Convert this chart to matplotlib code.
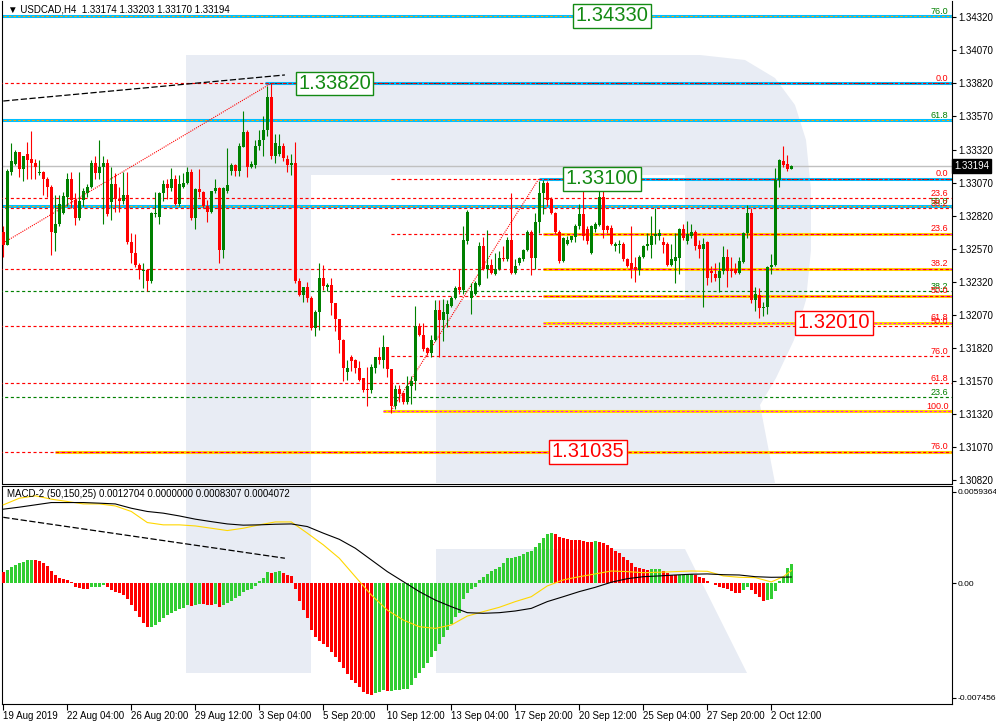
import matplotlib
matplotlib.use('Agg')
import matplotlib.pyplot as plt
from matplotlib.patches import Polygon, Rectangle
import numpy as np

plt.rcParams['font.family'] = ['Liberation Sans', 'DejaVu Sans']

# ---------------- USDCAD H4 candles ----------------
opens = [
    1.3270, 1.3260, 1.3315, 1.3321, 1.3330, 1.3317, 1.3329, 1.3325, 1.3322, 1.3314,
    1.3315, 1.3310, 1.3304, 1.3269, 1.3276, 1.3284, 1.3296, 1.3310, 1.3294, 1.3280,
    1.3294, 1.3299, 1.3304, 1.3322, 1.3314, 1.3319, 1.3322, 1.3292, 1.3306, 1.3295,
    1.3293, 1.3298, 1.3262, 1.3254, 1.3245, 1.3240, 1.3241, 1.3233, 1.3283, 1.3281,
    1.3299, 1.3306, 1.3303, 1.3310, 1.3291, 1.3304, 1.3307, 1.3315, 1.3280, 1.3302,
    1.3300, 1.3289, 1.3285, 1.3301, 1.3303, 1.3256, 1.3301, 1.3316, 1.3320, 1.3316,
    1.3334, 1.3345, 1.3319, 1.3320, 1.3335, 1.3339, 1.3347, 1.3372, 1.3327, 1.3329,
    1.3335, 1.3325, 1.3320, 1.3322, 1.3233, 1.3222, 1.3228, 1.3220, 1.3197, 1.3209,
    1.3235, 1.3228, 1.3230, 1.3216, 1.3204, 1.3188, 1.3164, 1.3175, 1.3173, 1.3167,
    1.3159, 1.3151, 1.3150, 1.3167, 1.3175, 1.3173, 1.3183, 1.3166, 1.3138, 1.3151,
    1.3148, 1.3141, 1.3153, 1.3157, 1.3199, 1.3192, 1.3182, 1.3178, 1.3188, 1.3211,
    1.3203, 1.3208, 1.3214, 1.3220, 1.3228, 1.3226, 1.3263, 1.3220, 1.3223, 1.3230,
    1.3259, 1.3242, 1.3245, 1.3238, 1.3242, 1.3250, 1.3249, 1.3264, 1.3239, 1.3246,
    1.3249, 1.3256, 1.3270, 1.3250, 1.3277, 1.3299, 1.3307, 1.3295, 1.3284, 1.3270,
    1.3248, 1.3261, 1.3264, 1.3266, 1.3274, 1.3283, 1.3272, 1.3254, 1.3272, 1.3275,
    1.3296, 1.3274, 1.3273, 1.3259, 1.3260, 1.3261, 1.3249, 1.3246, 1.3243, 1.3241,
    1.3251, 1.3259, 1.3260, 1.3267, 1.3267, 1.3262, 1.3261, 1.3245, 1.3248, 1.3250,
    1.3272, 1.3263, 1.3267, 1.3270, 1.3260, 1.3257, 1.3262, 1.3240, 1.3238, 1.3235,
    1.3240, 1.3251, 1.3241, 1.3242, 1.3239, 1.3247, 1.3269, 1.3284, 1.3218, 1.3222,
    1.3212, 1.3213, 1.3243, 1.3245, 1.3309, 1.3323, 1.3321, 1.33174]
highs = [
    1.3274, 1.3317, 1.3337, 1.3332, 1.3330, 1.3327, 1.3338, 1.3346, 1.3325, 1.3324,
    1.3316, 1.3311, 1.3305, 1.3298, 1.3298, 1.3300, 1.3314, 1.3315, 1.3299, 1.3315,
    1.3303, 1.3306, 1.3324, 1.3327, 1.3339, 1.3327, 1.3325, 1.3319, 1.3314, 1.3304,
    1.3315, 1.3315, 1.3269, 1.3268, 1.3246, 1.3246, 1.3241, 1.3285, 1.3300, 1.3300,
    1.3309, 1.3310, 1.3318, 1.3313, 1.3313, 1.3314, 1.3319, 1.3317, 1.3303, 1.3317,
    1.3301, 1.3294, 1.3301, 1.3310, 1.3304, 1.3304, 1.3333, 1.3322, 1.3321, 1.3337,
    1.3361, 1.3347, 1.3323, 1.3339, 1.3347, 1.3357, 1.3380, 1.3382, 1.3344, 1.3344,
    1.3337, 1.3328, 1.3329, 1.3338, 1.3235, 1.3228, 1.3232, 1.3221, 1.3211, 1.3246,
    1.3245, 1.3231, 1.3235, 1.3216, 1.3204, 1.3189, 1.3173, 1.3177, 1.3174, 1.3172,
    1.3159, 1.3168, 1.3170, 1.3175, 1.3183, 1.3192, 1.3183, 1.3166, 1.3154, 1.3154,
    1.3149, 1.3161, 1.3161, 1.3214, 1.3201, 1.3201, 1.3183, 1.3192, 1.3218, 1.3218,
    1.3219, 1.3218, 1.3221, 1.3229, 1.3242, 1.3274, 1.3286, 1.3231, 1.3233, 1.3262,
    1.3266, 1.3271, 1.3249, 1.3254, 1.3255, 1.3259, 1.3266, 1.3299, 1.3249, 1.3251,
    1.3257, 1.3271, 1.3271, 1.3284, 1.3308, 1.3309, 1.3308, 1.3296, 1.3285, 1.3271,
    1.3266, 1.3267, 1.3267, 1.3276, 1.3291, 1.3301, 1.3274, 1.3275, 1.3277, 1.3302,
    1.3305, 1.3275, 1.3275, 1.3262, 1.3264, 1.3262, 1.3250, 1.3274, 1.3251, 1.3252,
    1.3260, 1.3269, 1.3282, 1.3288, 1.3272, 1.3266, 1.3262, 1.3261, 1.3269, 1.3273,
    1.3276, 1.3278, 1.3276, 1.3271, 1.3264, 1.3265, 1.3263, 1.3244, 1.3246, 1.3247,
    1.3259, 1.3257, 1.3251, 1.3246, 1.3251, 1.3270, 1.3290, 1.3288, 1.3228, 1.3227,
    1.3217, 1.3244, 1.3253, 1.3318, 1.3325, 1.3335, 1.3328, 1.33203]
lows = [
    1.3251, 1.3260, 1.3313, 1.3320, 1.3311, 1.3308, 1.3310, 1.3310, 1.3310, 1.3313,
    1.3298, 1.3296, 1.3252, 1.3255, 1.3274, 1.3283, 1.3289, 1.3288, 1.3275, 1.3279,
    1.3289, 1.3296, 1.3303, 1.3310, 1.3310, 1.3276, 1.3282, 1.3279, 1.3285, 1.3285,
    1.3291, 1.3261, 1.3246, 1.3243, 1.3234, 1.3227, 1.3225, 1.3231, 1.3281, 1.3276,
    1.3293, 1.3295, 1.3301, 1.3290, 1.3289, 1.3303, 1.3306, 1.3279, 1.3272, 1.3296,
    1.3288, 1.3277, 1.3284, 1.3299, 1.3246, 1.3250, 1.3299, 1.3313, 1.3312, 1.3312,
    1.3334, 1.3311, 1.3318, 1.3318, 1.3332, 1.3327, 1.3342, 1.3325, 1.3322, 1.3327,
    1.3323, 1.3315, 1.3313, 1.3231, 1.3221, 1.3217, 1.3217, 1.3196, 1.3191, 1.3196,
    1.3226, 1.3225, 1.3207, 1.3195, 1.3178, 1.3157, 1.3158, 1.3165, 1.3163, 1.3157,
    1.3149, 1.3138, 1.3148, 1.3163, 1.3170, 1.3167, 1.3160, 1.3133, 1.3136, 1.3141,
    1.3140, 1.3140, 1.3140, 1.3150, 1.3191, 1.3180, 1.3177, 1.3175, 1.3187, 1.3175,
    1.3187, 1.3198, 1.3213, 1.3219, 1.3223, 1.3223, 1.3261, 1.3208, 1.3222, 1.3229,
    1.3241, 1.3235, 1.3238, 1.3237, 1.3241, 1.3248, 1.3248, 1.3238, 1.3238, 1.3245,
    1.3248, 1.3255, 1.3237, 1.3242, 1.3269, 1.3283, 1.3289, 1.3283, 1.3268, 1.3246,
    1.3247, 1.3260, 1.3262, 1.3262, 1.3272, 1.3264, 1.3261, 1.3253, 1.3270, 1.3274,
    1.3265, 1.3269, 1.3260, 1.3255, 1.3254, 1.3248, 1.3243, 1.3235, 1.3232, 1.3237,
    1.3250, 1.3256, 1.3250, 1.3261, 1.3264, 1.3254, 1.3244, 1.3244, 1.3231, 1.3238,
    1.3264, 1.3261, 1.3265, 1.3256, 1.3250, 1.3213, 1.3230, 1.3232, 1.3233, 1.3224,
    1.3238, 1.3228, 1.3236, 1.3238, 1.3238, 1.3246, 1.3265, 1.3216, 1.3210, 1.3205,
    1.3206, 1.3208, 1.3238, 1.3244, 1.3304, 1.3319, 1.3316, 1.33170]
closes = [
    1.3260, 1.3316, 1.3323, 1.3330, 1.3317, 1.3327, 1.3324, 1.3322, 1.3319, 1.3315,
    1.3310, 1.3304, 1.3270, 1.3276, 1.3291, 1.3297, 1.3310, 1.3294, 1.3280, 1.3293,
    1.3301, 1.3304, 1.3322, 1.3314, 1.3319, 1.3322, 1.3283, 1.3306, 1.3295, 1.3293,
    1.3298, 1.3262, 1.3254, 1.3245, 1.3241, 1.3241, 1.3233, 1.3284, 1.3284, 1.3299,
    1.3306, 1.3303, 1.3310, 1.3291, 1.3306, 1.3307, 1.3315, 1.3280, 1.3302, 1.3300,
    1.3289, 1.3285, 1.3301, 1.3303, 1.3256, 1.3303, 1.3305, 1.3320, 1.3316, 1.3335,
    1.3345, 1.3319, 1.3321, 1.3335, 1.3339, 1.3347, 1.3372, 1.3327, 1.3337, 1.3335,
    1.3326, 1.3320, 1.3322, 1.3233, 1.3222, 1.3228, 1.3220, 1.3197, 1.3209, 1.3235,
    1.3229, 1.3230, 1.3216, 1.3204, 1.3188, 1.3167, 1.3167, 1.3172, 1.3167, 1.3158,
    1.3150, 1.3150, 1.3168, 1.3175, 1.3173, 1.3183, 1.3166, 1.3138, 1.3151, 1.3147,
    1.3141, 1.3153, 1.3157, 1.3199, 1.3192, 1.3181, 1.3178, 1.3188, 1.3211, 1.3203,
    1.3209, 1.3215, 1.3220, 1.3227, 1.3226, 1.3264, 1.3285, 1.3225, 1.3231, 1.3259,
    1.3242, 1.3245, 1.3239, 1.3242, 1.3250, 1.3249, 1.3264, 1.3239, 1.3244, 1.3250,
    1.3256, 1.3270, 1.3250, 1.3277, 1.3299, 1.3307, 1.3294, 1.3284, 1.3270, 1.3248,
    1.3265, 1.3264, 1.3267, 1.3274, 1.3283, 1.3267, 1.3263, 1.3274, 1.3276, 1.3296,
    1.3271, 1.3271, 1.3261, 1.3261, 1.3261, 1.3249, 1.3244, 1.3242, 1.3242, 1.3251,
    1.3259, 1.3261, 1.3267, 1.3268, 1.3269, 1.3260, 1.3245, 1.3249, 1.3251, 1.3272,
    1.3265, 1.3268, 1.3270, 1.3259, 1.3257, 1.3261, 1.3235, 1.3239, 1.3235, 1.3240,
    1.3251, 1.3240, 1.3240, 1.3239, 1.3248, 1.3269, 1.3284, 1.3218, 1.3223, 1.3212,
    1.3213, 1.3243, 1.3245, 1.3309, 1.3324, 1.3320, 1.3317, 1.33194]

# ---------------- MACD-2 (50,150,25) ----------------
# histogram, in units of 0.0001
hist_e4 = [
    7.6, 8.7, 10.4, 11.9, 13.0, 14.1, 15.2, 15.3, 15.0, 14.5,
    13.0, 11.3, 8.2, 5.4, 3.7, 2.6, 2.2, 0.9, -2.6, -3.3,
    -3.5, -3.9, -2.6, -2.5, -2.2, -1.3, -2.6, -4.3, -5.4, -6.5,
    -7.6, -10.4, -14.1, -17.8, -22.1, -25.6, -28.6, -28.2, -26.9, -25.0,
    -22.8, -20.8, -19.1, -17.8, -16.9, -15.8, -14.3, -14.8, -14.1, -13.5,
    -13.7, -13.9, -14.3, -13.5, -15.2, -14.3, -13.0, -11.3, -9.8, -8.0,
    -5.9, -4.3, -3.9, -1.7, 1.7, 3.7, 7.4, 6.9, 7.4, 7.8,
    6.5, 5.4, 4.8, -3.9, -11.3, -17.4, -22.6, -30.4, -34.7, -37.3,
    -39.5, -41.2, -44.5, -47.7, -51.0, -55.3, -59.0, -62.9, -65.1, -67.7,
    -70.5, -72.0, -72.7, -71.6, -70.5, -69.4, -69.9, -69.7, -69.4, -69.2,
    -69.0, -68.4, -66.2, -61.8, -58.6, -55.3, -51.6, -48.2, -43.8, -39.5,
    -34.7, -30.4, -26.5, -22.1, -19.1, -10.4, -6.5, -3.9, -2.2, 2.2,
    3.9, 6.1, 8.0, 9.1, 10.4, 13.5, 16.3, 16.5, 16.9, 17.8,
    19.1, 20.6, 21.3, 23.4, 26.5, 29.3, 32.1, 32.6, 32.1, 30.4,
    29.3, 28.6, 28.2, 28.0, 27.9, 27.8, 27.1, 27.0, 27.3, 27.1,
    26.5, 25.0, 23.2, 21.3, 19.5, 17.4, 15.2, 13.0, 10.9, 9.8,
    9.1, 8.7, 9.1, 9.3, 9.5, 8.2, 6.5, 5.4, 5.2, 5.4,
    5.6, 5.8, 6.0, 5.4, 4.3, 3.3, 1.7, 0.4, -1.3, -2.6,
    -3.3, -3.9, -4.8, -6.1, -6.2, -4.3, -2.6, -4.3, -6.9, -9.1,
    -11.3, -10.9, -10.4, -4.8, 1.7, 4.3, 10.0, 12.7]
# the two lines, read every 4th bar (units of 0.0001)
line_idx = list(range(0, 193, 4)) + [195, 197]
yellow_e4 = [
    51.0, 55.3, 56.9, 54.7, 53.2, 51.6, 51.6, 50.3, 46.7, 39.5,
    38.0, 38.0, 37.3, 35.8, 34.3, 35.8, 38.0, 39.9, 39.9, 32.6,
    25.0, 16.3, 4.3, -7.6, -17.4, -23.9, -28.2, -29.3, -27.1, -21.3,
    -18.4, -15.6, -11.9, -8.7, -1.7, 2.2, 4.3, 6.1, 8.0, 7.6,
    6.9, 7.2, 7.6, 8.0, 7.8, 4.8, 3.9, 3.7, 0.9, 4.3, 8.3]
black_e4 = [
    48.2, 49.5, 51.0, 52.5, 52.5, 52.5, 52.1, 51.6, 48.8, 46.7,
    45.6, 43.8, 41.7, 40.1, 38.6, 37.8, 38.0, 38.4, 38.6, 36.9,
    32.6, 28.6, 22.8, 15.2, 7.6, 1.1, -5.4, -10.9, -15.2, -19.1,
    -19.5, -19.1, -18.0, -16.3, -11.9, -8.7, -5.4, -2.6, 0.7, 3.0,
    4.3, 4.8, 5.4, 5.9, 6.1, 5.6, 5.4, 4.3, 3.9, 4.0, 4.1]

# ---------------- axis labels / levels ----------------
price_ticks = [1.34320, 1.34070, 1.33820, 1.33570, 1.33320, 1.33070, 1.32820,
               1.32570, 1.32320, 1.32070, 1.31820, 1.31570, 1.31320, 1.31070, 1.30820]
time_labels = ['19 Aug 2019', '22 Aug 04:00', '26 Aug 20:00', '29 Aug 12:00', '3 Sep 04:00',
               '5 Sep 20:00', '10 Sep 12:00', '13 Sep 04:00', '17 Sep 20:00', '20 Sep 12:00',
               '25 Sep 04:00', '27 Sep 20:00', '2 Oct 12:00']
last_price = 1.33194

red_full = [1.33820, 1.32954, 1.32879, 1.32421, 1.31987, 1.31556, 1.31035]
green_full = [1.32251, 1.31450]
red_fibo2 = [1.33100, 1.32683, 1.32217, 1.31760]       # from the 10 Sep low
blue_full = [1.34330, 1.33544, 1.32894]
blue_part = [(1.33820, 65.5), (1.33100, 134)]
yellow_part = [(1.32683, 135), (1.32421, 135), (1.32217, 135), (1.32010, 135),
               (1.31344, 95), (1.31035, 13)]
level_labels = [(1.34330, '76.0', 'g'), (1.33820, '0.0', 'r'), (1.33544, '61.8', 'g'),
                (1.33100, '0.0', 'r'), (1.32954, '23.6', 'r'), (1.32894, '50.0', 'g'),
                (1.32879, '38.2', 'r'), (1.32683, '23.6', 'r'), (1.32421, '38.2', 'r'),
                (1.32251, '38.2', 'g'), (1.32217, '50.0', 'r'), (1.32010, '61.8', 'r'),
                (1.31987, '50.0', 'r'), (1.31760, '76.0', 'r'), (1.31556, '61.8', 'r'),
                (1.31450, '23.6', 'g'), (1.31344, '100.0', 'r'), (1.31035, '76.0', 'r')]
price_boxes = [(152.2, 1.34330, 'g'), (82.8, 1.33820, 'g'), (149.7, 1.33100, 'g'),
               (207.7, 1.32010, 'r'), (146.2, 1.31035, 'r')]
fibo_bases = [((0, 66.7), (1.32614, 1.33816)), ((97, 133.9), (1.31347, 1.33100))]
trend_main = ((0, 70.4), (1.33687, 1.33884))
trend_macd = ((0, 70.4), (0.00429, 0.00163))

RED = '#ff0000'
GREEN = '#008000'
BOXGREEN = '#138a13'
LBL = {'r': RED, 'g': GREEN}

o = np.array(opens); h = np.array(highs); l = np.array(lows); c = np.array(closes)
n = len(c)
x = np.arange(n)

W, H = 996, 725
fig = plt.figure(figsize=(W / 100, H / 100), dpi=100)
fig.patch.set_facecolor('white')


def px_rect(x0, y0, x1, y1):
    return [x0 / W, 1 - y1 / H, (x1 - x0) / W, (y1 - y0) / H]


# background logo watermark (pixel space)
bg = fig.add_axes([0, 0, 1, 1], zorder=0)
bg.set_xlim(0, W); bg.set_ylim(H, 0); bg.axis('off')
wm = '#e8ecf4'
outer = [(186, 55), (700, 55), (745, 60), (775, 78), (795, 105), (806, 140), (811, 190),
         (811, 250), (806, 300), (794, 340), (776, 378), (760, 405), (775, 483),
         (436, 483), (436, 300), (311, 300), (311, 483), (186, 483)]
bg.add_patch(Polygon(outer, closed=True, fc=wm, ec='none'))
bg.add_patch(Rectangle((311, 175), 374, 125, fc='white', ec='none'))
bg.add_patch(Rectangle((186, 486), 125, 187, fc=wm, ec='none'))
bg.add_patch(Polygon([(436, 549), (685, 549), (747, 673), (436, 673)], closed=True, fc=wm, ec='none'))

ax = fig.add_axes(px_rect(2, 1, 952, 483.5), zorder=1)
am = fig.add_axes(px_rect(2, 486, 952, 704), zorder=1)
for a in (ax, am):
    a.set_facecolor('none')
    a.set_xlim(-0.325, 237.175)
    for s in a.spines.values():
        s.set_linewidth(0.8)
ax.spines['top'].set_visible(False)
ax.set_ylim(1.30796, 1.34443)
am.set_ylim(-0.007847, 0.006326)
xr = 237.175

# ---- level lines ----
dash = (0, (2.6, 2.2))
for p in blue_full:
    ax.hlines(p, -1, xr, color='#00bfff', lw=2.2, zorder=2)
    ax.hlines(p, -1, xr, color='#ffa500', lw=0.7, ls=dash, zorder=3)
for p, x0 in blue_part:
    ax.hlines(p, x0, xr, color='#00bfff', lw=2.2, zorder=2)
    ax.hlines(p, x0, xr, color='#333333', lw=0.7, ls=dash, zorder=3)
for p, x0 in yellow_part:
    ax.hlines(p, x0, xr, color='#ffd700', lw=2.2, zorder=2)
    ax.hlines(p, x0, xr, color='#ff00ff', lw=0.7, ls=dash, zorder=3)
for p in red_full:
    ax.hlines(p, -1, xr, color=RED, lw=0.85, ls=dash, zorder=3)
for p in red_fibo2:
    ax.hlines(p, 97, xr, color=RED, lw=0.85, ls=dash, zorder=3)
for p in green_full:
    ax.hlines(p, -1, xr, color=GREEN, lw=0.85, ls=dash, zorder=3)
ax.hlines(last_price, -1, xr, color='#c0c0c0', lw=1.0, zorder=2)

for bx, by in fibo_bases:
    ax.plot(bx, by, color=RED, lw=0.8, ls=(0, (1, 1)), zorder=4)
ax.plot(trend_main[0], trend_main[1], color='black', lw=0.9, ls=(0, (5, 2)), zorder=4)

for p, t, k in level_labels:
    ax.text(236.3, p + 0.00003, t, ha='right', va='bottom', fontsize=6.5, color=LBL[k], zorder=7)

# ---- candles ----
up = c >= o
col = np.where(up, GREEN, RED)
ax.vlines(x, l, h, colors=col, lw=0.8, zorder=5)
body_lo = np.minimum(o, c)
body_h = np.maximum(np.abs(c - o), 0.00008)
ax.bar(x, body_h, bottom=body_lo, width=0.75, color=col, lw=0, zorder=6)

for bx, p, k in price_boxes:
    cc = BOXGREEN if k == 'g' else RED
    ax.text(bx, p, '%.5f' % p, ha='center', va='center', fontsize=14.5, color=cc, zorder=8,
            bbox=dict(boxstyle='square,pad=0.12', fc='white', ec=cc, lw=1.0))

ax.yaxis.tick_right()
ax.set_yticks(price_ticks)
ax.set_yticklabels(['%.5f' % p for p in price_ticks])
ax.tick_params(axis='y', length=3, width=0.8, labelsize=7, pad=1.5)
ax.tick_params(axis='x', bottom=False, labelbottom=False)
ax.text(1.002, last_price, '%.5f' % last_price, transform=ax.get_yaxis_transform(),
        ha='left', va='center', fontsize=7, color='white', zorder=9, clip_on=False,
        bbox=dict(boxstyle='square,pad=0.2', fc='black', ec='black'))

# ---- MACD panel ----
hist = np.array(hist_e4) * 1e-4
rising = np.r_[False, np.diff(hist) > 0]
hcol = np.where(rising, '#32cd32', RED)
am.bar(x, hist, width=0.75, color=hcol, lw=0, zorder=3)
am.plot(line_idx, np.array(yellow_e4) * 1e-4, color='#ffd700', lw=0.8, zorder=4)
am.plot(line_idx, np.array(black_e4) * 1e-4, color='black', lw=0.8, zorder=4)
am.plot(trend_macd[0], trend_macd[1], color='black', lw=0.9, ls=(0, (5, 2)), zorder=4)

am.yaxis.tick_right()
am.set_yticks([0.0059364, 0.0, -0.0074563])
am.set_yticklabels(['0.0059364', '0.00', '-0.007456'])
am.tick_params(axis='y', length=3, width=0.8, labelsize=6.1, pad=0.8)
am.set_xticks(np.arange(0, 193, 16))
am.set_xticklabels(time_labels, ha='left')
am.tick_params(axis='x', length=4, width=0.8, labelsize=7, pad=1)

fig.text(8 / W, 1 - 10 / H, '\u25bc USDCAD,H4  1.33174 1.33203 1.33170 1.33194',
         fontsize=7, va='center', ha='left')
fig.text(7 / W, 1 - 494 / H, 'MACD-2 (50,150,25) 0.0012704 0.0000000 0.0008307 0.0004072',
         fontsize=7, va='center', ha='left')

fig.savefig('out.png', dpi=100)
